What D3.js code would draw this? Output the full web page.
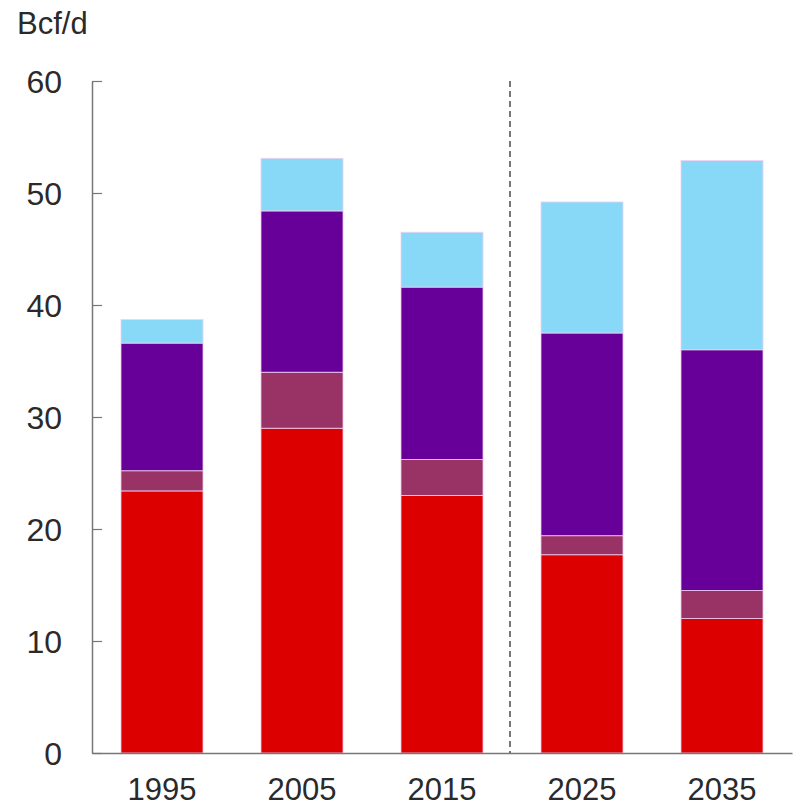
<!DOCTYPE html>
<html>
<head>
<meta charset="utf-8">
<title>Bcf/d stacked bars</title>
<script src="https://d3js.org/d3.v7.min.js"></script>
<style>
  body { margin: 0; padding: 0; background: #fff; }
  svg { display: block; }
  .tick text, .lbl { font-family: "Liberation Sans", Arial, sans-serif; fill: #2a2a2a; }
</style>
</head>
<body>
<svg width="796" height="809"></svg>
<script>
// data (Bcf/d)
var years = ['1995', '2005', '2015', '2025', '2035'];
var seriesNames = ['s1', 's2', 's3', 's4'];
var s1 = [23.4, 29.0, 23.0, 17.7, 12.0];
var s2 = [1.8, 5.0, 3.2, 1.7, 2.5];
var s3 = [11.4, 14.4, 15.4, 18.1, 21.5];
var s4 = [2.1, 4.7, 4.9, 11.7, 16.9];
var yTicks = [0, 10, 20, 30, 40, 50, 60];
var colors = ['#dd0000', '#993366', '#660099', '#88d9f8'];

var svg = d3.select('svg');
var margin = { left: 92, right: 4, top: 81, bottom: 56 };
var width = +svg.attr('width');
var height = +svg.attr('height');

var rows = years.map(function(y, i) {
  return { year: y, s1: s1[i], s2: s2[i], s3: s3[i], s4: s4[i] };
});

var x = d3.scaleBand()
  .domain(years)
  .range([margin.left, width - margin.right])
  .paddingInner(0.414)
  .paddingOuter(0.207);

var y = d3.scaleLinear()
  .domain([0, 60])
  .range([height - margin.bottom, margin.top]);

var stack = d3.stack().keys(seriesNames);
var layers = stack(rows);

svg.selectAll('.layer')
  .data(layers)
  .enter().append('g')
  .attr('class', 'layer')
  .attr('fill', function(d, i) { return colors[i]; })
  .selectAll('rect')
  .data(function(d) { return d; })
  .enter().append('rect')
  .attr('x', function(d) { return x(d.data.year); })
  .attr('width', x.bandwidth())
  .attr('y', function(d) { return y(d[1]); })
  .attr('height', function(d) { return y(d[0]) - y(d[1]); })
  .attr('stroke', '#f4d0f0')
  .attr('stroke-width', 0.8);

// y axis, ticks pointing inward
var yAxis = svg.append('g')
  .attr('transform', 'translate(' + margin.left + ',0)')
  .call(d3.axisLeft(y).tickValues(yTicks).tickSizeInner(-10).tickSizeOuter(0).tickPadding(30));
yAxis.select('.domain').attr('stroke', '#777').attr('stroke-width', 1.5);
yAxis.selectAll('.tick line').attr('stroke', '#777').attr('stroke-width', 1.2);
yAxis.selectAll('.tick text').style('font-size', '32px').attr('dy', '0.36em');

// x axis line, no ticks
var xAxis = svg.append('g')
  .attr('transform', 'translate(0,' + y(0) + ')')
  .call(d3.axisBottom(x).tickSize(0).tickPadding(25));
xAxis.select('.domain').attr('stroke', '#777').attr('stroke-width', 1.5);
xAxis.selectAll('.tick text').style('font-size', '31px').attr('dy', '0.71em');

// dashed divider between history and projection
var divX = (x('2015') + x.bandwidth() + x('2025')) / 2 - 2;
svg.append('line')
  .attr('x1', divX).attr('x2', divX)
  .attr('y1', y(60)).attr('y2', y(0))
  .attr('stroke', '#555')
  .attr('stroke-width', 1.6)
  .attr('stroke-dasharray', '6,4');

svg.append('text')
  .attr('class', 'lbl')
  .attr('x', 17)
  .attr('y', 34)
  .style('font-size', '31px')
  .text('Bcf/d');
</script>
</body>
</html>
